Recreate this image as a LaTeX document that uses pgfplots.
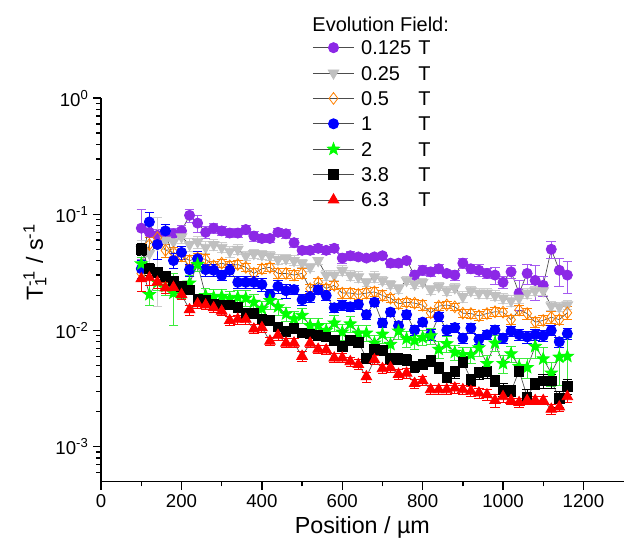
\documentclass[border=0pt]{standalone}
\usepackage{fontspec}
\setmainfont{Liberation Sans}
\usepackage{pgfplots}
\pgfplotsset{compat=1.18}
\usepackage{pgfplotstable}
\usetikzlibrary{plotmarks}
\definecolor{cviolet}{RGB}{140,40,230}
\definecolor{cvioletl}{RGB}{165,90,240}
\definecolor{cgray}{RGB}{192,192,192}
\definecolor{cgrayl}{RGB}{205,205,205}
\definecolor{corange}{RGB}{255,128,0}
\definecolor{cblue}{RGB}{0,0,255}
\definecolor{cgreen}{RGB}{0,255,0}
\definecolor{cgreenl}{RGB}{60,235,60}
\definecolor{cred}{RGB}{255,0,0}

\pgfdeclareplotmark{fstar}{%
  \pgfpathmoveto{\pgfqpointpolar{90}{\pgfplotmarksize}}%
  \pgfpathlineto{\pgfqpointpolar{126}{0.42\pgfplotmarksize}}%
  \pgfpathlineto{\pgfqpointpolar{162}{\pgfplotmarksize}}%
  \pgfpathlineto{\pgfqpointpolar{198}{0.42\pgfplotmarksize}}%
  \pgfpathlineto{\pgfqpointpolar{234}{\pgfplotmarksize}}%
  \pgfpathlineto{\pgfqpointpolar{270}{0.42\pgfplotmarksize}}%
  \pgfpathlineto{\pgfqpointpolar{306}{\pgfplotmarksize}}%
  \pgfpathlineto{\pgfqpointpolar{342}{0.42\pgfplotmarksize}}%
  \pgfpathlineto{\pgfqpointpolar{18}{\pgfplotmarksize}}%
  \pgfpathlineto{\pgfqpointpolar{54}{0.42\pgfplotmarksize}}%
  \pgfpathclose
  \pgfusepathqfillstroke}

\pgfplotstableread{
x y e
100 0.076 0.035
120 0.070 0.012
140 0.066 0.008
160 0.068 0.008
180 0.068 0.008
200 0.072 0.008
220 0.098 0.012
240 0.084 0.014
260 0.070 0.008
280 0.076 0.008
300 0.072 0.006
320 0.069 0.006
340 0.069 0.006
360 0.074 0.007
380 0.065 0.006
400 0.062 0.005
420 0.062 0.005
440 0.070 0.006
460 0.068 0.006
480 0.057 0.005
500 0.049 0.004
520 0.049 0.004
540 0.051 0.004
560 0.049 0.004
580 0.051 0.004
600 0.042 0.004
620 0.044 0.004
640 0.043 0.003
660 0.042 0.003
680 0.043 0.003
700 0.044 0.003
720 0.038 0.003
740 0.038 0.003
760 0.040 0.003
780 0.030 0.003
800 0.033 0.003
820 0.032 0.003
840 0.034 0.003
860 0.031 0.002
880 0.030 0.003
900 0.038 0.004
920 0.034 0.003
940 0.033 0.004
960 0.031 0.003
980 0.030 0.005
1000 0.026 0.003
1020 0.032 0.004
1040 0.021 0.006
1060 0.031 0.006
1080 0.027 0.009
1100 0.0245 0.005
1120 0.050 0.008
1140 0.033 0.009
1160 0.030 0.009
}\tpurple

\pgfplotstableread{
x y e
100 0.050 0.010
120 0.046 0.012
140 0.055 0.039
160 0.060 0.010
180 0.058 0.008
200 0.064 0.008
220 0.055 0.007
240 0.058 0.007
260 0.052 0.006
280 0.055 0.006
300 0.052 0.005
320 0.048 0.005
340 0.050 0.005
360 0.044 0.004
380 0.046 0.004
400 0.045 0.004
420 0.044 0.004
440 0.041 0.004
460 0.0415 0.004
480 0.040 0.004
500 0.038 0.003
520 0.035 0.003
540 0.040 0.003
560 0.030 0.003
580 0.030 0.003
600 0.033 0.003
620 0.030 0.003
640 0.029 0.003
660 0.026 0.002
680 0.029 0.003
700 0.027 0.002
720 0.025 0.002
740 0.023 0.002
760 0.027 0.002
780 0.025 0.002
800 0.026 0.002
820 0.0225 0.002
840 0.024 0.002
860 0.022 0.002
880 0.0233 0.002
900 0.0196 0.002
920 0.022 0.002
940 0.021 0.002
960 0.021 0.002
980 0.020 0.002
1000 0.019 0.002
1020 0.018 0.002
1040 0.019 0.002
1060 0.021 0.002
1080 0.022 0.002
1100 0.022 0.002
1120 0.0163 0.0015
1140 0.016 0.0015
1160 0.0166 0.0015
}\tgray

\pgfplotstableread{
x y e
100 0.031 0.004
120 0.055 0.008
140 0.063 0.008
160 0.049 0.006
180 0.047 0.005
200 0.044 0.005
220 0.040 0.004
240 0.042 0.004
260 0.041 0.004
280 0.036 0.003
300 0.038 0.003
320 0.036 0.003
340 0.037 0.003
360 0.035 0.003
380 0.031 0.003
400 0.034 0.003
420 0.035 0.003
440 0.031 0.003
460 0.031 0.003
480 0.030 0.003
500 0.031 0.003
520 0.0229 0.002
540 0.026 0.002
560 0.023 0.002
580 0.0245 0.002
600 0.021 0.002
620 0.021 0.002
640 0.0205 0.002
660 0.021 0.002
680 0.0215 0.002
700 0.020 0.002
720 0.019 0.0015
740 0.017 0.0015
760 0.0175 0.0015
780 0.0172 0.0015
800 0.0165 0.0015
820 0.0142 0.0012
840 0.0162 0.0012
860 0.0166 0.0012
880 0.016 0.0012
900 0.0141 0.0012
920 0.014 0.0012
940 0.0134 0.0012
960 0.014 0.0012
980 0.0145 0.0012
1000 0.0144 0.0012
1020 0.0124 0.0012
1040 0.015 0.0015
1060 0.014 0.0015
1080 0.0118 0.0012
1100 0.0122 0.0012
1120 0.013 0.0015
1140 0.0124 0.0012
1160 0.0142 0.0018
}\torange

\pgfplotstableread{
x y e
100 0.034 0.006
120 0.086 0.018
140 0.055 0.014
160 0.072 0.010
180 0.040 0.006
200 0.047 0.006
220 0.0334 0.004
240 0.0415 0.006
260 0.0334 0.004
280 0.033 0.004
300 0.0298 0.003
320 0.033 0.004
340 0.026 0.003
360 0.026 0.003
380 0.026 0.003
400 0.0249 0.003
420 0.0204 0.002
440 0.024 0.003
460 0.022 0.003
480 0.0225 0.002
500 0.0184 0.002
520 0.0195 0.002
540 0.0224 0.002
560 0.020 0.002
580 0.0157 0.0015
600 0.0165 0.0015
620 0.016 0.0015
640 0.0168 0.0015
660 0.0137 0.0012
680 0.0175 0.0015
700 0.0116 0.001
720 0.0144 0.0012
740 0.011 0.001
760 0.0137 0.0012
780 0.0101 0.001
800 0.0118 0.001
820 0.0092 0.001
840 0.0132 0.0012
860 0.0101 0.001
880 0.0106 0.001
900 0.0086 0.0008
920 0.0105 0.001
940 0.0084 0.0008
960 0.0092 0.0008
980 0.0101 0.001
1000 0.0086 0.0008
1020 0.0099 0.001
1040 0.0092 0.001
1060 0.0088 0.001
1080 0.0092 0.001
1100 0.0090 0.001
1120 0.0100 0.001
1140 0.0080 0.0008
1160 0.0094 0.001
}\tblue

\pgfplotstableread{
x y e
100 0.0375 0.005
120 0.0204 0.004
140 0.026 0.004
160 0.024 0.004
180 0.021 0.010
200 0.022 0.003
220 0.0256 0.004
240 0.037 0.005
260 0.020 0.003
280 0.0194 0.003
300 0.0197 0.003
320 0.0188 0.003
340 0.0193 0.003
360 0.019 0.003
380 0.0175 0.003
400 0.0154 0.0025
420 0.0181 0.003
440 0.016 0.0025
460 0.0139 0.002
480 0.0126 0.002
500 0.0135 0.002
520 0.011 0.0018
540 0.011 0.0018
560 0.010 0.0015
580 0.0116 0.0018
600 0.0097 0.0015
620 0.0114 0.0018
640 0.0095 0.0015
660 0.0095 0.0015
680 0.0078 0.0012
700 0.0093 0.0015
720 0.0076 0.0012
740 0.0099 0.0015
760 0.0085 0.0013
780 0.0082 0.0013
800 0.0087 0.0013
820 0.009 0.0014
840 0.0069 0.0011
860 0.0077 0.0012
880 0.0065 0.001
900 0.0062 0.001
920 0.0062 0.001
940 0.0071 0.0011
960 0.0052 0.0009
980 0.0078 0.0012
1000 0.0052 0.0009
1020 0.0063 0.001
1040 0.0049 0.0009
1060 0.0048 0.0009
1080 0.0073 0.0015
1100 0.0057 0.0015
1120 0.0043 0.001
1140 0.0059 0.0025
1160 0.006 0.0028
}\tgreen

\pgfplotstableread{
x y e
100 0.050 0.006
120 0.034 0.004
140 0.0318 0.003
160 0.0292 0.003
180 0.0266 0.0025
200 0.0239 0.002
220 0.0224 0.002
240 0.0188 0.0018
260 0.0184 0.0018
280 0.017 0.0015
300 0.0167 0.0015
320 0.0166 0.0015
340 0.0159 0.0015
360 0.0141 0.0013
380 0.0141 0.0013
400 0.0126 0.0012
420 0.0123 0.0012
440 0.0108 0.001
460 0.0099 0.001
480 0.0105 0.001
500 0.0096 0.0009
520 0.0094 0.0009
540 0.0091 0.0009
560 0.0088 0.0008
580 0.0082 0.0008
600 0.0073 0.0007
620 0.0082 0.0008
640 0.0079 0.0008
660 0.0058 0.0006
680 0.0069 0.0007
700 0.0068 0.0007
720 0.0057 0.0006
740 0.0057 0.0006
760 0.0056 0.0006
780 0.0049 0.0005
800 0.0051 0.0005
820 0.0055 0.0006
840 0.0048 0.0005
860 0.0040 0.0004
880 0.0044 0.0005
900 0.0054 0.0006
920 0.0038 0.0004
940 0.0043 0.0005
960 0.0044 0.0005
980 0.0037 0.0004
1000 0.0031 0.0004
1020 0.0030 0.0004
1040 0.0045 0.0005
1060 0.0027 0.0004
1080 0.0035 0.0004
1100 0.0037 0.0005
1120 0.0037 0.0005
1140 0.0026 0.0004
1160 0.0033 0.0005
}\tblack

\pgfplotstableread{
x y e
100 0.0279 0.006
120 0.0285 0.004
140 0.0261 0.003
160 0.0233 0.0025
180 0.0235 0.0025
200 0.0204 0.002
220 0.0151 0.0015
240 0.017 0.0015
260 0.0166 0.0015
280 0.0157 0.0015
300 0.0147 0.0013
320 0.0122 0.0011
340 0.0125 0.0011
360 0.0125 0.0011
380 0.0103 0.0009
400 0.0106 0.0009
420 0.0081 0.0007
440 0.0091 0.0008
460 0.0078 0.0007
480 0.0078 0.0007
500 0.0060 0.0006
520 0.0078 0.0007
540 0.0069 0.0006
560 0.0068 0.0006
580 0.0058 0.0005
600 0.0058 0.0005
620 0.0054 0.0005
640 0.0051 0.0005
660 0.0040 0.0004
680 0.0056 0.0005
700 0.0047 0.0004
720 0.0048 0.0004
740 0.0042 0.0004
760 0.0043 0.0004
780 0.0035 0.0003
800 0.0037 0.0003
820 0.0031 0.0003
840 0.0031 0.0003
860 0.0031 0.0003
880 0.0032 0.0003
900 0.0031 0.0003
920 0.0030 0.0003
940 0.0029 0.0003
960 0.0028 0.0003
980 0.0025 0.0003
1000 0.0027 0.0003
1020 0.0025 0.0002
1040 0.0024 0.0002
1060 0.0025 0.0002
1080 0.0025 0.0002
1100 0.0025 0.0002
1120 0.0021 0.0002
1140 0.0022 0.0002
1160 0.0027 0.0003
}\tred

\pgfplotsset{
  ser/.style n args={5}{
    color=black!70, line width=0.5bp, mark=#1, mark size=#2,
    mark options={solid, line width=0.6bp, draw=#3, fill=#4, rotate=#5},
  },
  eb/.style={
    error bars/.cd, y dir=both, y explicit,
    error bar style={line width=0.6bp, color=#1},
    error mark options={line width=0.6bp, mark size=3.6bp, color=#1, rotate=90},
  },
}

\begin{document}
\begin{tikzpicture}
\begin{axis}[
  name=ax,
  scale only axis,
  width=391.3bp, height=287.25bp,
  ymode=log,
  xmin=0, xmax=1300, ymin=5e-4, ymax=1,
  axis x line*=bottom, axis y line*=left,
  axis line style={line width=1.1bp, -},
  tick align=outside,
  major tick length=6bp, minor tick length=3.5bp,
  every tick/.style={line width=1bp, black},
  xtick={0,200,...,1200}, minor x tick num=1,
  ytick={1e-3,1e-2,1e-1,1},
  yticklabels={10\textsuperscript{-3},10\textsuperscript{-2},10\textsuperscript{-1},10\textsuperscript{0}},
  minor ytick={6e-4,7e-4,8e-4,9e-4,2e-3,3e-3,4e-3,5e-3,6e-3,7e-3,8e-3,9e-3,2e-2,3e-2,4e-2,5e-2,6e-2,7e-2,8e-2,9e-2,0.2,0.3,0.4,0.5,0.6,0.7,0.8,0.9},
  /pgf/number format/assume math mode=true,
  /pgf/number format/1000 sep={},
  ticklabel style={font=\fontsize{14}{14}\selectfont},
  xlabel={Position / µm},
  ylabel={T\rlap{\textsuperscript{-1}}\textsubscript{1}\hphantom{\textsuperscript{-}} / s\textsuperscript{-1}},
  label style={font=\fontsize{17.5}{17.5}\selectfont},
  ylabel style={at={(ticklabel cs:0.572)}},
  clip=false,
  legend style={at={(rel axis cs:0.404,1.154)}, anchor=north west, draw=none, fill=none,
    font=\fontsize{15}{15}\selectfont, row sep=6.5bp, column sep=4bp, inner sep=0pt,
    nodes={inner sep=1bp, text height=10.5bp, text depth=0bp}},
  legend cell align=left,
  legend image code/.code={\draw[mark repeat=2,mark phase=2,#1] plot coordinates {(0bp,0bp) (15.5bp,0bp) (31bp,0bp)};},
]
\addplot[ser={*}{3.8bp}{cviolet}{cviolet}{0}, eb=cvioletl] table[x=x,y=y,y error=e]{\tpurple};
\addlegendentry{\makebox[42.75bp][l]{0.125}T}
\addplot[ser={triangle*}{4.6bp}{cgray}{cgray}{180}, eb=cgrayl] table[x=x,y=y,y error=e]{\tgray};
\addlegendentry{\makebox[42.75bp][l]{0.25}T}
\addplot[ser={diamond}{4.4bp}{corange}{white}{0}, eb=corange] table[x=x,y=y,y error=e]{\torange};
\addlegendentry{\makebox[42.75bp][l]{0.5}T}
\addplot[ser={*}{3.8bp}{cblue}{cblue}{0}, eb=cblue] table[x=x,y=y,y error=e]{\tblue};
\addlegendentry{\makebox[42.75bp][l]{1}T}
\addplot[ser={fstar}{4.8bp}{cgreen}{cgreen}{0}, eb=cgreenl] table[x=x,y=y,y error=e]{\tgreen};
\addlegendentry{\makebox[42.75bp][l]{2}T}
\addplot[ser={square*}{3.5bp}{black}{black}{0}, eb=black] table[x=x,y=y,y error=e]{\tblack};
\addlegendentry{\makebox[42.75bp][l]{3.8}T}
\addplot[ser={triangle*}{4.6bp}{cred}{cred}{0}, eb=cred] table[x=x,y=y,y error=e]{\tred};
\addlegendentry{\makebox[42.75bp][l]{6.3}T}
\node[anchor=base west, inner sep=0pt, font=\fontsize{15}{15}\selectfont] at (rel axis cs:0.404,1.173) {Evolution Field:};
\end{axis}
\pgfresetboundingbox
\path[use as bounding box] ([shift={(-75.75bp,-45.75bp)}]ax.south west) rectangle ([shift={(0.3bp,73.5bp)}]ax.north east);
\end{tikzpicture}
\end{document}
